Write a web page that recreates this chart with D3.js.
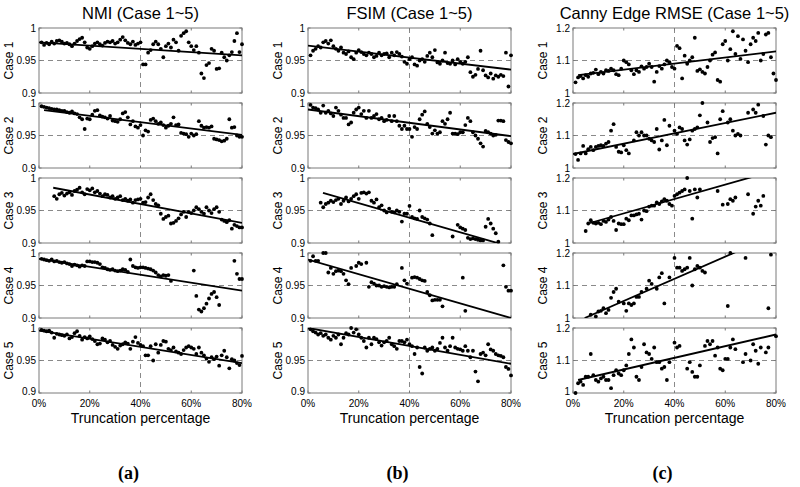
<!DOCTYPE html>
<html><head><meta charset="utf-8">
<script src="https://cdn.jsdelivr.net/npm/d3@7"></script>
<style>body{margin:0;background:#fff}svg{display:block}</style>
</head><body><svg id="c" width="800" height="487"></svg>
<script>
// ---------- data ----------
const truncPct = d3.range(1, 81); // truncation percentage for each sample (1%..80%)
const xTicks = [0, 20, 40, 60, 80];
const xTickLabels = ["0%", "20%", "40%", "60%", "80%"];
const simTicks = [0.9, 0.95, 1];
const simTickLabels = ["0.9", "0.95", "1"];
const rmseTicks = [1, 1.1, 1.2];
const rmseTickLabels = ["1", "1.1", "1.2"];
const columnTitles = ["NMI (Case 1~5)", "FSIM (Case 1~5)", "Canny Edge RMSE (Case 1~5)"];
const columnTags = ["(a)", "(b)", "(c)"];
const caseLabels = ["Case 1", "Case 2", "Case 3", "Case 4", "Case 5"];
const xAxisTitle = "Truncation percentage";
const n = null;

const nmiCase1 = [.978,.974,.977,.975,.979,.976,.980,.981,.979,.976,
.977,.975,.972,.976,.980,.983,.985,.978,.970,.968,
.972,.976,.978,.975,.973,.977,.979,.978,.980,.976,
.978,.982,.986,.981,.977,.975,.979,.974,.976,.978,
.944,.944,.962,.966,.975,.979,.975,.968,.955,.972,
.976,.970,.982,.978,.965,.988,.992,.995,.978,.972,
.966,.972,.962,.930,.923,.943,.946,.968,.965,.937,
.938,.962,.955,.950,.958,.963,.980,.992,.963,.975];
const nmiCase2 = [.995,.994,.993,.992,.991,.990,.990,.989,.988,.988,
.986,.985,.987,.984,.983,.978,.975,.960,.976,.975,
.982,.988,.989,.981,.979,.978,.976,.980,.973,.972,
.971,.975,.984,.986,.978,.967,.972,.964,.962,.966,
.950,.958,.956,.974,.976,.972,.968,.970,.966,.962,
.965,.968,.978,.966,.967,.954,.953,.952,.948,.953,
.950,.952,.972,.965,.962,.963,.962,.964,.945,.944,
.943,.941,.942,.945,.975,.962,.963,.950,.948,.948];
const nmiCase3 = [n,n,n,n,n,.972,.968,.975,.977,.973,
.976,.978,.974,.980,.982,.985,.978,.975,.983,.981,
.984,.978,.980,.976,.972,.975,.974,.970,.972,.968,
.970,.972,.966,.968,.965,.967,.962,.966,.967,.968,
.962,.963,.970,.975,.966,.960,.958,.945,.937,.940,
.942,.930,.931,.934,.938,.944,.948,.940,.948,.946,
.950,.955,.952,.948,.945,.955,.950,.946,.952,.955,
.948,.936,.934,.932,.935,.922,.928,.926,.924,.924];
const nmiCase4 = [.991,.990,.989,.988,.990,.987,.988,.986,.985,.986,
.984,.983,.980,.982,.981,.979,.981,.980,.987,.987,
.986,.986,.985,.983,.978,.977,.975,.974,.975,.973,
.972,.973,.975,.974,.971,.990,.980,.978,.977,.978,
.978,.977,.976,.975,.973,.970,.966,.964,.966,.965,
.966,.957,n,n,n,n,n,n,n,n,
.973,.934,.913,.910,.915,.922,.930,.937,.940,.932,
.920,n,n,n,n,n,.988,.968,.960,.960];
const nmiCase5 = [.997,.996,.995,.996,.993,.985,.991,.990,.989,.988,
.990,.984,.986,.992,.995,.988,.982,.986,.984,.987,
.983,.980,.975,.976,.984,.982,.978,.980,.974,.971,
.968,.973,.975,.978,.976,.968,.979,.986,.977,.974,
.972,.958,.958,.972,.950,.975,.962,.974,.980,.979,
.968,.966,.970,.964,.962,.960,.966,.970,.972,.970,
.968,.960,.970,.962,.958,.953,.948,.955,.952,.956,
.942,.958,.965,.955,.938,.952,.950,.946,.943,.957];

const fsimCase1 = [.958,.965,.968,.972,.970,.978,.980,.976,.981,.972,
.968,.965,.970,.962,.960,.964,.955,.952,.962,.966,
.963,.960,.958,.962,.960,.955,.957,.962,.958,.960,
.961,.955,.962,.958,.963,.960,.956,.948,.945,.952,
.955,.944,.942,.950,.952,.948,.957,.962,.955,.966,
.947,.945,.950,.962,.946,.945,.950,.944,.952,.948,
.945,.948,.955,.932,.925,.928,.937,.965,.935,.927,
.924,.930,.922,.927,.925,.928,.926,.962,.910,.958];
const fsimCase2 = [.997,.993,.992,.990,.985,.996,.985,.988,.984,.980,
.993,.988,.982,.977,.977,.967,.970,.985,.990,.993,
.983,.988,.977,.988,.977,.980,.983,.975,.977,.972,
.974,.980,.972,.980,.972,.965,.960,.965,.960,.960,
.948,.963,.960,.975,.982,.987,.968,.963,.953,.958,
.953,.955,.972,.968,.975,.985,.953,.953,.952,.955,
.955,.966,.977,.972,.955,.950,.945,.938,.933,.957,
.955,.953,.950,.951,.973,.973,.972,.943,.940,.938];
const fsimCase3 = [n,n,n,n,.962,.955,.960,.962,.965,.963,
.966,.968,.960,.965,.970,.964,.968,.972,.975,.968,
.977,.978,.976,.978,.965,.962,.967,.955,.958,.950,
.947,.953,.948,.947,.950,.948,.933,.945,.945,.957,
.940,.938,.937,.950,.940,.938,.936,.930,.912,n,
n,n,n,n,n,n,.910,n,.928,.924,
.922,.920,.908,.906,.907,.906,.905,.904,.904,.925,
.937,.930,.922,.915,.902,n,n,n,n,n];
const fsimCase4 = [.988,.995,.988,.988,n,1.0,1.0,.970,.977,.968,
.972,.973,.972,.968,.958,.952,.977,n,.980,.985,
.983,n,.985,.948,.955,.953,.950,.950,.948,.949,
.948,.947,.948,.948,.952,n,.977,.958,.953,n,
.962,.963,.962,.960,.958,.957,.940,.935,.927,.928,
.928,.928,.918,n,n,n,n,n,n,n,
.962,.911,n,n,n,n,n,n,n,n,
n,n,n,n,n,n,.981,.948,.942,.942];
const fsimCase5 = [.998,.995,.993,.990,.992,.988,.990,.985,.982,.988,
.985,.990,.975,.985,.992,.990,1.0,.993,.998,.990,
.985,.980,.970,.985,.975,.985,.983,.978,.973,.978,
.980,.985,.975,.972,.968,.980,.980,.978,.982,.975,
.972,.960,.970,.940,.930,.970,.965,.968,.970,.965,
.968,.977,.985,.970,.965,.972,.985,.970,.968,.967,
.965,.972,.965,.955,.965,.933,.918,.960,.962,.958,
.975,.967,.965,.960,.958,.957,.955,.940,.937,.927];

const cannyCase1 = [1.033,1.048,1.052,1.045,1.055,1.050,1.060,1.062,1.072,1.058,
1.065,1.060,1.070,1.068,1.075,1.070,1.058,1.055,1.075,1.100,
1.095,1.088,1.070,1.058,1.070,1.065,1.082,1.075,1.080,1.090,
1.080,1.035,1.065,1.083,1.075,1.088,1.100,1.095,1.080,1.075,
1.145,1.138,1.045,1.115,1.090,1.100,1.110,1.170,1.068,1.073,
1.065,1.060,1.080,1.100,1.118,1.125,1.040,1.035,1.150,1.160,
1.100,1.135,1.190,1.120,1.175,1.105,1.165,1.130,1.095,1.150,
1.170,1.160,1.185,1.100,1.120,1.180,1.185,1.110,1.060,1.040];
const cannyCase2 = [1.043,1.025,1.045,1.068,1.045,1.058,1.065,1.055,1.065,1.068,
1.070,1.068,1.075,1.080,1.115,1.135,1.065,1.050,1.048,1.070,
1.055,1.045,n,1.085,1.110,1.100,1.110,1.100,1.100,1.090,
1.085,1.080,1.120,1.057,1.085,1.148,1.070,1.130,n,1.115,
1.105,1.125,1.120,1.085,1.072,1.088,1.115,1.120,1.125,1.162,
1.200,n,1.140,1.080,1.092,1.095,1.045,1.150,1.175,n,
1.140,1.150,1.115,1.100,1.105,1.100,n,n,1.170,n,
1.180,1.170,1.195,n,1.160,1.072,1.100,1.095,n,n];
const cannyCase3 = [n,n,n,n,1.037,1.060,1.070,1.062,1.060,1.062,
1.058,1.068,1.065,1.072,1.080,1.068,1.040,1.060,1.058,1.058,
1.075,1.070,1.085,1.085,1.088,1.090,1.072,1.100,1.098,1.112,
1.115,1.115,1.125,1.120,1.128,1.135,1.130,1.120,1.115,1.145,
1.150,1.155,1.160,1.165,1.200,1.160,1.075,1.165,1.140,1.165,
n,n,n,n,n,n,1.160,n,1.118,n,
1.120,1.135,1.130,1.140,n,n,n,n,1.150,n,
1.090,1.112,1.130,1.115,1.145,n,n,n,n,n];
const cannyCase4 = [n,n,n,n,n,n,1.010,n,1.005,1.020,
1.022,1.030,1.015,1.025,1.062,1.080,1.090,1.050,n,1.045,
1.022,1.045,1.040,1.045,1.065,1.065,1.080,n,1.090,1.115,
1.105,n,1.090,1.125,1.138,1.045,n,1.125,n,1.185,
1.155,1.155,1.145,1.150,1.155,1.185,1.100,1.150,1.160,1.155,
1.145,1.140,n,n,n,n,n,n,n,n,
1.037,1.200,n,n,n,n,n,1.185,n,n,
n,n,n,n,n,n,1.030,1.195,n,n];
const cannyCase5 = [1.000,1.030,1.035,1.025,1.050,1.050,1.120,1.055,1.040,1.035,
1.045,1.050,1.040,1.040,1.015,1.055,1.070,1.060,1.055,1.070,
1.085,1.120,1.165,1.140,1.050,1.040,1.080,1.150,1.125,1.120,
1.105,1.140,1.095,1.095,1.075,1.080,1.040,1.095,n,1.155,
1.140,1.145,n,n,1.075,1.095,1.065,1.050,1.050,1.085,
n,1.145,1.160,1.150,1.160,1.115,1.140,1.075,1.070,1.105,
1.105,1.140,1.165,1.135,n,n,1.095,1.120,n,1.100,
1.150,1.130,1.090,1.140,n,1.125,1.140,n,n,1.175];

// least-squares fit lines as drawn in the figure: [xStart, yStart, xEnd, yEnd]
const nmiFits = [[0,.978,80,.958],[2,.989,80,.951],[5.6,.985,80,.931],[0,.991,80,.942],[0,.996,80,.946]];
const fsimFits = [[0,.973,80,.936],[0,.990,80,.949],[5.9,.977,80,.894],[0,.990,80,.900],[0,1.0,80,.945]];
const cannyFits = [[2,1.055,80,1.128],[0,1.043,80,1.170],[6,1.060,80,1.224],[4.6,1.000,80,1.257],[2,1.040,80,1.180]];

const columns = [
  {series:[nmiCase1,nmiCase2,nmiCase3,nmiCase4,nmiCase5], fits:nmiFits, domain:[0.9,1], ticks:simTicks, tickLabels:simTickLabels, ref:0.95},
  {series:[fsimCase1,fsimCase2,fsimCase3,fsimCase4,fsimCase5], fits:fsimFits, domain:[0.9,1], ticks:simTicks, tickLabels:simTickLabels, ref:0.95},
  {series:[cannyCase1,cannyCase2,cannyCase3,cannyCase4,cannyCase5], fits:cannyFits, domain:[1,1.2], ticks:rmseTicks, tickLabels:rmseTickLabels, ref:1.1}
];

// ---------- layout ----------
const panelX = [39, 308, 573], panelW = 203, rowTop = 28, rowStep = 75, rowH = 65;
const svg = d3.select("#c");
const font = "Liberation Sans, Arial, sans-serif";

columns.forEach((col, ci) => {
  const x0 = panelX[ci];
  const x = d3.scaleLinear().domain([0, 80]).range([x0, x0 + panelW]);
  svg.append("text").attr("x", x0 + panelW/2).attr("y", 19).attr("text-anchor","middle")
    .attr("font-family", font).attr("font-size", 16.5).text(columnTitles[ci]);

  col.series.forEach((vals, ri) => {
    const y0 = rowTop + ri*rowStep;
    const y = d3.scaleLinear().domain(col.domain).range([y0 + rowH, y0]);
    const g = svg.append("g");
    const cid = `clip${ci}${ri}`;
    svg.append("clipPath").attr("id", cid).append("rect")
      .attr("x", x0).attr("y", y0).attr("width", panelW).attr("height", rowH);

    // dashed reference lines
    g.append("line").attr("x1", x0).attr("x2", x0+panelW).attr("y1", y(col.ref)).attr("y2", y(col.ref))
      .attr("stroke","#8a8a8a").attr("stroke-dasharray","5,4").attr("stroke-width",1);
    g.append("line").attr("x1", x(40)).attr("x2", x(40)).attr("y1", y0).attr("y2", y0+rowH)
      .attr("stroke","#8a8a8a").attr("stroke-dasharray","5,4").attr("stroke-width",1);

    // frame
    g.append("rect").attr("x", x0).attr("y", y0).attr("width", panelW).attr("height", rowH)
      .attr("fill","none").attr("stroke","#7a7a7a").attr("stroke-width",1);
    // inward ticks
    xTicks.forEach(t => {
      g.append("line").attr("x1", x(t)).attr("x2", x(t)).attr("y1", y0+rowH).attr("y2", y0+rowH-2.5).attr("stroke","#7a7a7a");
      g.append("line").attr("x1", x(t)).attr("x2", x(t)).attr("y1", y0).attr("y2", y0+2.5).attr("stroke","#7a7a7a");
    });
    col.ticks.forEach(t => {
      g.append("line").attr("x1", x0).attr("x2", x0+2.5).attr("y1", y(t)).attr("y2", y(t)).attr("stroke","#7a7a7a");
      g.append("line").attr("x1", x0+panelW).attr("x2", x0+panelW-2.5).attr("y1", y(t)).attr("y2", y(t)).attr("stroke","#7a7a7a");
    });
    // y tick labels
    col.ticks.forEach((t, k) => {
      g.append("text").attr("x", x0 - 3).attr("y", y(t) - (ri === 4 && k === 0 ? 2 : 0)).attr("dy", "0.35em").attr("text-anchor","end")
        .attr("font-family", font).attr("font-size", 10).text(col.tickLabels[k]);
    });
    // case label
    g.append("text").attr("transform", `translate(${x0 - 26},${y0 + rowH/2}) rotate(-90)`)
      .attr("text-anchor","middle").attr("font-family", font).attr("font-size", 12).text(caseLabels[ri]);

    // fit line
    const f = col.fits[ri];
    g.append("line").attr("clip-path", `url(#${cid})`)
      .attr("x1", x(f[0])).attr("y1", y(f[1])).attr("x2", x(f[2])).attr("y2", y(f[3]))
      .attr("stroke","#000").attr("stroke-width",1.8);

    // points
    const pts = truncPct.map((p, i) => ({p, v: vals[i]})).filter(d => d.v !== null);
    g.selectAll("circle.pt").data(pts).enter().append("circle").attr("class","pt")
      .attr("cx", d => x(d.p)).attr("cy", d => y(d.v)).attr("r", 1.9).attr("fill","#000");

    if (ri === 4) {
      xTicks.forEach((t, k) => {
        svg.append("text").attr("x", x(t)).attr("y", y0 + rowH + 13.5).attr("text-anchor","middle")
          .attr("font-family", font).attr("font-size", 10).text(xTickLabels[k]);
      });
      svg.append("text").attr("x", x0 + panelW/2).attr("y", y0 + rowH + 30).attr("text-anchor","middle")
        .attr("font-family", font).attr("font-size", 14).text(xAxisTitle);
    }
  });
  svg.append("text").attr("x", x0 + panelW/2 - 12).attr("y", 479).attr("text-anchor","middle")
    .attr("font-family", "Liberation Serif, Times New Roman, serif").attr("font-weight","bold")
    .attr("font-size", 18).text(columnTags[ci]);
});
</script></body></html>
